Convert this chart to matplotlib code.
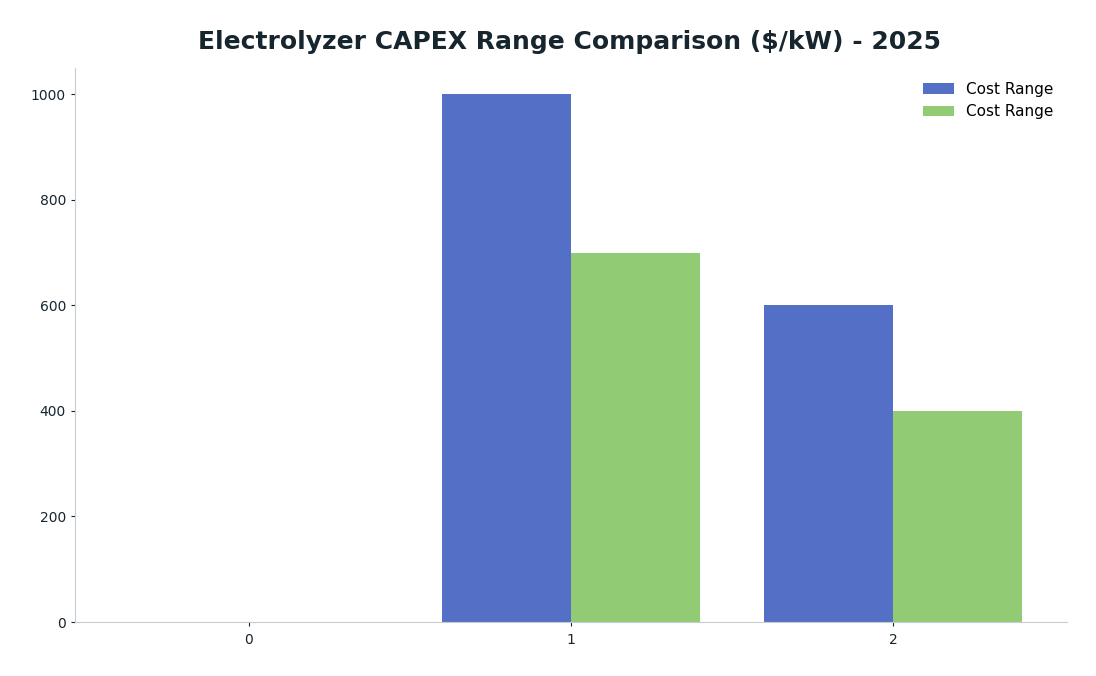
import matplotlib
matplotlib.use("Agg")
import matplotlib.pyplot as plt
import numpy as np

# Chart data
categories = ["0", "1", "2"]
series_names = ["Cost Range", "Cost Range"]
upper_costs = [0, 1000, 600]
lower_costs = [0, 700, 400]

colors = ["#5470C6", "#91CC75"]
text_color = "#17252f"
spine_color = "#c8ccd0"


def main():
	fig = plt.figure(figsize=(10.96, 6.76), dpi=100)
	ax = fig.add_axes([75 / 1096, 1 - 622 / 676, (1067 - 75) / 1096, (622 - 68) / 676])

	x = np.arange(len(categories))
	width = 0.4
	ax.bar(x - width / 2, upper_costs, width, color=colors[0], label=series_names[0])
	ax.bar(x + width / 2, lower_costs, width, color=colors[1], label=series_names[1])

	ax.set_xticks(x)
	ax.set_xticklabels(categories)
	ax.set_xlim(-0.54, 2.54)
	ax.set_ylim(0, 1050)
	ax.set_yticks(range(0, 1001, 200))

	for side in ["top", "right"]:
		ax.spines[side].set_visible(False)
	for side in ["left", "bottom"]:
		ax.spines[side].set_color(spine_color)
	ax.tick_params(colors=text_color, labelsize=10, length=3)
	ax.tick_params(axis="x", pad=5)

	ax.legend(frameon=False, fontsize=11, loc="upper right")
	fig.suptitle("Electrolyzer CAPEX Range Comparison ($/kW) - 2025", x=570 / 1096, y=1 - 42 / 676,
		va="center", fontsize=18, fontweight="bold", color=text_color)

	fig.savefig("out.png", dpi=100)


if __name__ == "__main__":
	main()
